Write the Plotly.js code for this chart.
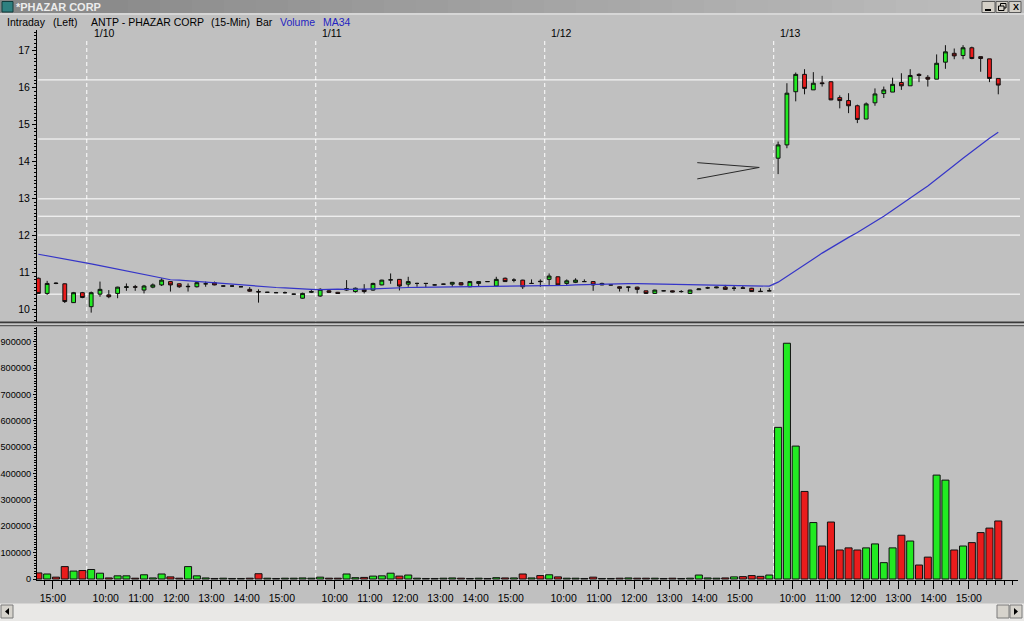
<!DOCTYPE html>
<html><head><meta charset="utf-8">
<script src="https://cdn.plot.ly/plotly-3.0.1.min.js"></script>
<style>html,body{margin:0;padding:0;background:#c0c0c0;overflow:hidden}#chart{width:1024px;height:621px}</style>
</head><body><div id="chart"></div>
<script>
// ---- data (15-min bars, index 0..109) ----
const openP = [
10.84,10.43,10.71,10.69,10.18,10.45,
10.07,10.41,10.39,10.43,10.59,10.61,10.52,10.60,10.66,10.75,10.69,10.61,10.61,10.69,10.72,10.63,10.63,10.61,10.54,10.48,10.46,10.45,10.45,10.41,10.30,10.46,
10.36,10.50,10.46,10.52,10.48,10.54,10.52,10.66,10.79,10.81,10.68,10.70,10.70,10.66,10.68,10.68,10.72,10.61,10.70,10.75,10.63,10.84,10.79,10.79,10.70,10.76,
10.81,10.88,10.70,10.73,10.75,10.75,10.66,10.66,10.61,10.60,10.60,10.50,10.43,10.50,10.50,10.48,10.43,10.53,10.58,10.58,10.60,10.57,10.58,10.57,10.49,10.50,
14.09,14.45,15.89,16.36,15.94,16.13,16.16,15.73,15.65,15.51,15.15,15.59,15.84,15.88,16.14,16.05,16.36,16.28,16.23,16.69,16.93,16.87,17.08,16.84,16.78,16.25];
const highP = [
10.86,10.77,10.73,10.70,10.47,10.47,
10.48,10.75,10.52,10.61,10.70,10.66,10.66,10.70,10.84,10.76,10.70,10.70,10.75,10.75,10.75,10.64,10.65,10.62,10.60,10.54,10.47,10.47,10.48,10.42,10.45,10.52,
10.57,10.52,10.47,10.79,10.59,10.68,10.72,10.80,10.97,10.82,10.88,10.72,10.71,10.67,10.69,10.74,10.73,10.76,10.76,10.76,10.88,10.86,10.84,10.80,10.81,10.81,
10.97,10.89,10.81,10.84,10.81,10.76,10.72,10.67,10.62,10.61,10.61,10.50,10.53,10.51,10.51,10.52,10.53,10.57,10.61,10.61,10.66,10.63,10.63,10.58,10.57,10.57,
14.54,16.12,16.41,16.50,16.42,16.32,16.17,15.79,15.85,15.54,15.60,15.98,16.03,16.27,16.39,16.50,16.39,16.34,16.90,17.15,17.06,17.15,17.11,16.84,16.78,16.25];
const lowP = [
10.42,10.39,10.68,10.17,10.17,10.30,
9.91,10.34,10.30,10.30,10.50,10.50,10.43,10.57,10.63,10.48,10.58,10.48,10.59,10.61,10.65,10.62,10.61,10.60,10.47,10.18,10.45,10.44,10.43,10.40,10.29,10.44,
10.34,10.44,10.42,10.50,10.45,10.43,10.50,10.65,10.69,10.51,10.61,10.61,10.59,10.65,10.67,10.61,10.65,10.60,10.61,10.74,10.61,10.74,10.73,10.55,10.69,10.61,
10.66,10.65,10.66,10.71,10.75,10.50,10.65,10.65,10.48,10.48,10.43,10.42,10.42,10.49,10.46,10.45,10.42,10.53,10.55,10.57,10.53,10.50,10.56,10.48,10.47,10.49,
13.66,14.36,15.63,15.82,15.94,16.03,15.66,15.44,15.31,15.04,15.15,15.51,15.72,15.88,15.94,16.05,16.15,16.03,16.23,16.51,16.77,16.77,16.77,16.43,16.15,15.82];
const closeP = [
10.43,10.70,10.70,10.21,10.45,10.32,
10.45,10.54,10.34,10.60,10.61,10.60,10.63,10.66,10.79,10.66,10.61,10.62,10.72,10.69,10.66,10.63,10.63,10.61,10.49,10.47,10.46,10.45,10.45,10.41,10.43,10.48,
10.54,10.46,10.43,10.56,10.57,10.48,10.70,10.79,10.80,10.63,10.75,10.70,10.70,10.66,10.68,10.73,10.66,10.75,10.75,10.75,10.81,10.75,10.79,10.61,10.70,10.75,
10.90,10.66,10.77,10.79,10.75,10.66,10.70,10.66,10.57,10.60,10.54,10.43,10.52,10.50,10.47,10.48,10.52,10.55,10.58,10.60,10.54,10.57,10.57,10.48,10.48,10.50,
14.45,15.85,16.36,15.98,16.12,16.11,15.67,15.65,15.51,15.14,15.56,15.83,15.94,16.09,16.05,16.33,16.33,16.23,16.66,16.97,16.86,17.08,16.79,16.79,16.25,16.07];
const volume = [
23000,19000,7000,47000,30000,32000,
36000,22000,4000,12000,12000,3000,16000,4000,19000,8000,3000,47000,12000,4000,2000,3000,2000,2000,3000,20000,3000,2000,3000,3000,4000,3000,
7000,3000,3000,19000,5000,6000,11000,12000,22000,11000,15000,3000,2000,2000,3000,4000,3000,2000,3000,2000,5000,4000,4000,19000,4000,13000,
16000,8000,3000,3000,2000,7000,2000,2000,3000,4000,3000,3000,3000,2000,3000,2000,3000,15000,4000,3000,4000,8000,9000,13000,10000,15000,
575000,894000,504000,332000,214000,125000,216000,110000,118000,110000,118000,133000,62000,118000,166000,144000,53000,83000,394000,375000,110000,125000,138000,176000,193000,220000];
// MA34 values for bars before 34 closes are available
const maEarly = [11.49,11.45,11.40,11.35,11.31,11.27,11.23,11.18,11.13,11.08,11.03,10.98,10.93,10.88,10.83,10.80,10.79,10.77,10.76,10.74,10.72,10.70,10.68,10.66,10.64,10.62,10.61,10.59,10.58,10.56,10.55,10.54,10.53];
const maPeriod = 34;
const hourBars = [2, 8,12,16,20,24,28, 34,38,42,46,50,54, 60,64,68,72,76,80, 86,90,94,98,102,106];
const hourLabels = ['15:00','10:00','11:00','12:00','13:00','14:00','15:00','10:00','11:00','12:00','13:00','14:00','15:00','10:00','11:00','12:00','13:00','14:00','15:00','10:00','11:00','12:00','13:00','14:00','15:00'];
const dayStartBars = [6, 32, 58, 84];
const dayLabels = ['1/10','1/11','1/12','1/13'];
const levelLines = [16.21, 14.61, 12.99, 12.52, 12.01, 10.41];
const arrowPts = {x: [74.82, 81.86, 74.82], y: [13.97, 13.84, 13.53]};

// ---- geometry helpers (pixel -> paper) ----
const L = 37, R = 1018, T = 30, B = 580;
const px = x => (x - L) / (R - L);
const py = y => (B - y) / (B - T);

const n = closeP.length;
const idx = Array.from({length: n}, (_, i) => i);
const ma = idx.map(i => i < maPeriod - 1 ? maEarly[i]
  : closeP.slice(i - maPeriod + 1, i + 1).reduce((a, b) => a + b, 0) / maPeriod);
const GREEN = '#22ea22', RED = '#ea1c1c';
const volColors = idx.map(i => closeP[i] >= openP[i] ? GREEN : RED);

const FONT = 'Liberation Sans, Arial, sans-serif';

const traces = [
  {type: 'bar', x: idx, y: volume, xaxis: 'x', yaxis: 'y', width: 0.8,
   marker: {color: volColors, line: {color: '#101010', width: 1}}, hoverinfo: 'skip'},
  {type: 'candlestick', x: idx, open: openP, high: highP, low: lowP, close: closeP,
   xaxis: 'x', yaxis: 'y2', whiskerwidth: 0,
   increasing: {line: {color: '#101010', width: 1}, fillcolor: GREEN},
   decreasing: {line: {color: '#101010', width: 1}, fillcolor: RED}, hoverinfo: 'skip'},
  {type: 'scatter', mode: 'lines', x: idx, y: ma, xaxis: 'x', yaxis: 'y2',
   line: {color: '#3535c8', width: 1.2}, hoverinfo: 'skip'}
];

const shapes = [];
// title bar gradient
for (let k = 0; k < 32; k++) {
  const c = Math.round(0x86 + (0xbe - 0x86) * k / 31).toString(16);
  shapes.push({type: 'rect', xref: 'paper', yref: 'paper', x0: px(k * 32), x1: px((k + 1) * 32 + 1),
    y0: py(0), y1: py(13), fillcolor: '#' + c + c + c, line: {width: 0}, layer: 'below'});
}
shapes.push({type: 'rect', xref: 'paper', yref: 'paper', x0: px(0), x1: px(1024), y0: py(13), y1: py(15),
  fillcolor: '#d6d6d6', line: {width: 0}, layer: 'below'});
// icon
shapes.push({type: 'rect', xref: 'paper', yref: 'paper', x0: px(2), x1: px(13), y0: py(1.5), y1: py(12),
  fillcolor: '#2f8080', line: {color: '#123c3c', width: 1}});
// window buttons
[[982, 995], [996, 1008], [1009, 1021]].forEach(b => shapes.push({type: 'rect', xref: 'paper', yref: 'paper',
  x0: px(b[0]), x1: px(b[1]), y0: py(1.5), y1: py(12.5), fillcolor: '#d4d0c8', line: {color: '#5a5a5a', width: 1}}));
shapes.push({type: 'line', xref: 'paper', yref: 'paper', x0: px(985), x1: px(991), y0: py(10), y1: py(10), line: {color: '#000', width: 2}});
shapes.push({type: 'rect', xref: 'paper', yref: 'paper', x0: px(1000.5), x1: px(1006), y0: py(3.5), y1: py(8), line: {color: '#000', width: 1}});
shapes.push({type: 'rect', xref: 'paper', yref: 'paper', x0: px(998.5), x1: px(1004), y0: py(6), y1: py(10.5), fillcolor: '#d4d0c8', line: {color: '#000', width: 1}});
// horizontal level lines
levelLines.forEach(v => shapes.push({type: 'line', xref: 'paper', yref: 'y2', x0: px(38), x1: px(1020), y0: v, y1: v,
  line: {color: '#ffffff', width: 1}, layer: 'below'}));
// day separators (dashed)
dayStartBars.forEach(b => shapes.push({type: 'line', xref: 'x', yref: 'paper', x0: b - 0.5, x1: b - 0.5,
  y0: py(41), y1: py(579), line: {color: '#ffffff', width: 1, dash: '4px,3px'}, layer: 'below'}));
// panel separator
shapes.push({type: 'rect', xref: 'paper', yref: 'paper', x0: px(0), x1: px(1024), y0: py(321.5), y1: py(323.5),
  fillcolor: '#3a3a3a', line: {width: 0}});
shapes.push({type: 'rect', xref: 'paper', yref: 'paper', x0: px(0), x1: px(1024), y0: py(323.5), y1: py(325),
  fillcolor: '#c8c8c8', line: {width: 0}});
shapes.push({type: 'rect', xref: 'paper', yref: 'paper', x0: px(0), x1: px(1024), y0: py(325), y1: py(326.3),
  fillcolor: '#5a5a5a', line: {width: 0}});
// drawn arrow (">" mark)
shapes.push({type: 'line', xref: 'x', yref: 'y2', x0: arrowPts.x[0], y0: arrowPts.y[0], x1: arrowPts.x[1], y1: arrowPts.y[1], line: {color: '#2a2a2a', width: 1}});
shapes.push({type: 'line', xref: 'x', yref: 'y2', x0: arrowPts.x[2], y0: arrowPts.y[2], x1: arrowPts.x[1], y1: arrowPts.y[1], line: {color: '#2a2a2a', width: 1}});
// scrollbar
shapes.push({type: 'rect', xref: 'paper', yref: 'paper', x0: px(0), x1: px(1024), y0: py(603.5), y1: py(621),
  fillcolor: '#e9e8e6', line: {width: 0}});
[[1, 13], [997, 1009], [1010, 1022]].forEach(b => shapes.push({type: 'rect', xref: 'paper', yref: 'paper',
  x0: px(b[0]), x1: px(b[1]), y0: py(605), y1: py(618), fillcolor: '#d6d3cc', line: {color: '#7a7a7a', width: 1}}));
shapes.push({type: 'path', xref: 'paper', yref: 'paper',
  path: `M ${px(9)} ${py(608)} L ${px(5)} ${py(611.5)} L ${px(9)} ${py(615)} Z`, fillcolor: '#000', line: {width: 0}});
shapes.push({type: 'path', xref: 'paper', yref: 'paper',
  path: `M ${px(1014)} ${py(608)} L ${px(1018)} ${py(611.5)} L ${px(1014)} ${py(615)} Z`, fillcolor: '#000', line: {width: 0}});

const ann = (x, y, text, opt = {}) => Object.assign({xref: 'paper', yref: 'paper', x: px(x), y: py(y),
  xanchor: 'left', yanchor: 'middle', text, showarrow: false, borderpad: 0,
  font: {family: FONT, size: 10.5, color: '#000'}}, opt);
const annotations = [
  ann(15, 7, '<b>*PHAZAR CORP</b>', {font: {family: FONT, size: 11, color: '#ececec'}}),
  ann(1011.5, 7, '<b>X</b>', {font: {family: FONT, size: 9, color: '#000'}}),
  ann(6, 21.5, 'Intraday'),
  ann(52, 21.5, '(Left)'),
  ann(90, 21.5, 'ANTP - PHAZAR CORP'),
  ann(210, 21.5, '(15-Min)'),
  ann(255, 21.5, 'Bar'),
  ann(279, 21.5, 'Volume', {font: {family: FONT, size: 10.5, color: '#2424c0'}}),
  ann(322, 21.5, 'MA34', {font: {family: FONT, size: 10.5, color: '#2424c0'}})
];
dayStartBars.forEach((b, k) => annotations.push(Object.assign(ann(0, 33.5, dayLabels[k]), {xref: 'x', x: b - 0.5 + 0.65})));

const tickFont = {family: FONT, size: 10.5, color: '#000'};
const layout = {
  width: 1024, height: 621,
  margin: {l: L, r: 1024 - R, t: T, b: 621 - B, pad: 0},
  paper_bgcolor: '#c0c0c0', plot_bgcolor: 'rgba(0,0,0,0)',
  showlegend: false, hovermode: false, boxgap: 0.38,
  xaxis: {range: [-0.153, 111.24], anchor: 'y', rangeslider: {visible: false},
    showgrid: false, zeroline: false, showline: true, linecolor: '#000', linewidth: 1,
    tickmode: 'array', tickvals: hourBars.map(b => b - 0.35), ticktext: hourLabels,
    ticks: 'outside', ticklen: 8, tickcolor: '#000', tickfont: tickFont,
    minor: {tick0: -0.35, dtick: 1, ticks: 'outside', ticklen: 4, tickcolor: '#000', showgrid: false}},
  yaxis: {domain: [0, (B - 327) / (B - T)], range: [-3800, 955600], anchor: 'x',
    showgrid: false, zeroline: false, showline: true, linecolor: '#000', linewidth: 1,
    tick0: 0, dtick: 100000, tickformat: 'd', ticks: 'outside', ticklen: 3, tickcolor: '#000',
    tickfont: {family: FONT, size: 9.2, color: '#000'},
    minor: {dtick: 10000, ticks: 'outside', ticklen: 2, tickcolor: '#000', showgrid: false}},
  yaxis2: {domain: [(B - 322) / (B - T), 1], range: [9.656, 17.561], anchor: 'x',
    showgrid: false, zeroline: false, showline: true, linecolor: '#000', linewidth: 1,
    tick0: 10, dtick: 1, ticks: 'outside', ticklen: 4, tickcolor: '#000', tickfont: tickFont,
    minor: {dtick: 0.1, ticks: 'outside', ticklen: 2, tickcolor: '#000', showgrid: false}},
  shapes, annotations
};
Plotly.newPlot('chart', traces, layout, {staticPlot: true, displayModeBar: false});
</script>
</body></html>
